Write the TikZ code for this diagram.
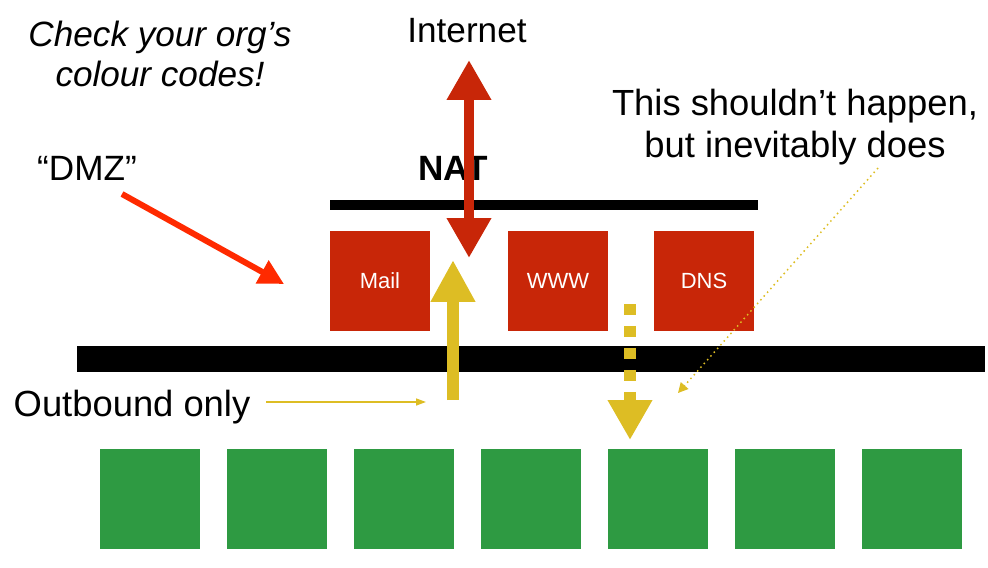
\documentclass[tikz,border=0pt]{standalone}
\usepackage{fontspec}
\setmainfont{Liberation Sans}
\usetikzlibrary{arrows.meta}
\definecolor{boxred}{RGB}{200,38,8}
\definecolor{arrred}{RGB}{255,42,0}
\definecolor{nyellow}{RGB}{221,189,36}
\definecolor{hostgreen}{RGB}{46,154,66}
\begin{document}
\begin{tikzpicture}[x=0.02cm,y=-0.02cm,
  every node/.style={inner sep=0pt, outer sep=0pt},
  lbl/.style={font=\fontsize{20}{24}\selectfont},
  biglbl/.style={font=\fontsize{20.7}{24}\selectfont},
  srv/.style={fill=boxred, minimum size=2cm, text=white, font=\fontsize{12.5}{15}\selectfont},
  host/.style={fill=hostgreen, minimum size=2cm},
  bar/.style={fill=black}]
\useasboundingbox (0,0) rectangle (988,568);
% notes
\node[align=center, font=\fontsize{20}{22.8}\selectfont\itshape] (check) at (160,54) {Check your org's\\colour codes!};
\node[lbl, anchor=base] (inet) at (467,42) {Internet};
\node[lbl, anchor=base, font=\fontsize{20}{24}\selectfont\bfseries] (nat) at (453,180) {NAT};
\node[lbl, anchor=base] (dmz) at (87,180) {“DMZ”};
\node[biglbl, anchor=base] (outb) at (132,416) {Outbound only};
\node[biglbl, align=center] (hint) at (795,127) {This shouldn’t happen,\\but inevitably does};
% firewalls
\fill[bar] (330,200) rectangle (758,210);
\fill[bar] (77,346) rectangle (985,372);
% servers
\node[srv] (mail) at (380,281) {Mail};
\node[srv] (www) at (558,281) {WWW};
\node[srv] (dns) at (704,281) {DNS};
% hosts
\foreach \i in {0,...,6}
  \node[host] (h\i) at (150+127*\i,499) {};
% arrows
\coordinate (natup) at (469,60);
\coordinate (natdn) at (469,258);
\coordinate (outfrom) at (453,400);
\coordinate (outto) at (453,260);
\coordinate (leakfrom) at (630,304);
\coordinate (leakto) at (630,440);
\coordinate (dmzfrom) at (122,194);
\coordinate (dmzto) at (284,284);
\coordinate (hintfrom) at (878,168);
\coordinate (hintto) at (678,393);
\coordinate (outbto) at (426,402);
\draw[boxred, line width=0.2cm, {Triangle[width=0.84cm,length=0.8cm]}-{Triangle[width=0.84cm,length=0.8cm]}] (natup) -- (natdn);
\draw[nyellow, line width=0.24cm, -{Triangle[width=0.84cm,length=0.84cm]}] (outfrom) -- (outto);
\draw[nyellow, line width=0.24cm, dash pattern=on 0.22cm off 0.22cm, -{Triangle[width=0.84cm,length=0.8cm]}] (leakfrom) -- (leakto);
\draw[arrred, line width=0.12cm, -{Triangle[width=0.5cm,length=0.5cm]}] (dmzfrom) -- (dmzto);
\draw[nyellow, line width=0.03cm, dotted, -{Triangle[width=0.2cm,length=0.2cm]}] (hintfrom) -- (hintto);
\draw[nyellow, line width=0.03cm, -{Triangle[width=0.14cm,length=0.2cm]}] ([xshift=0.32cm]outb.east |- outbto) -- (outbto);
\end{tikzpicture}
\end{document}
